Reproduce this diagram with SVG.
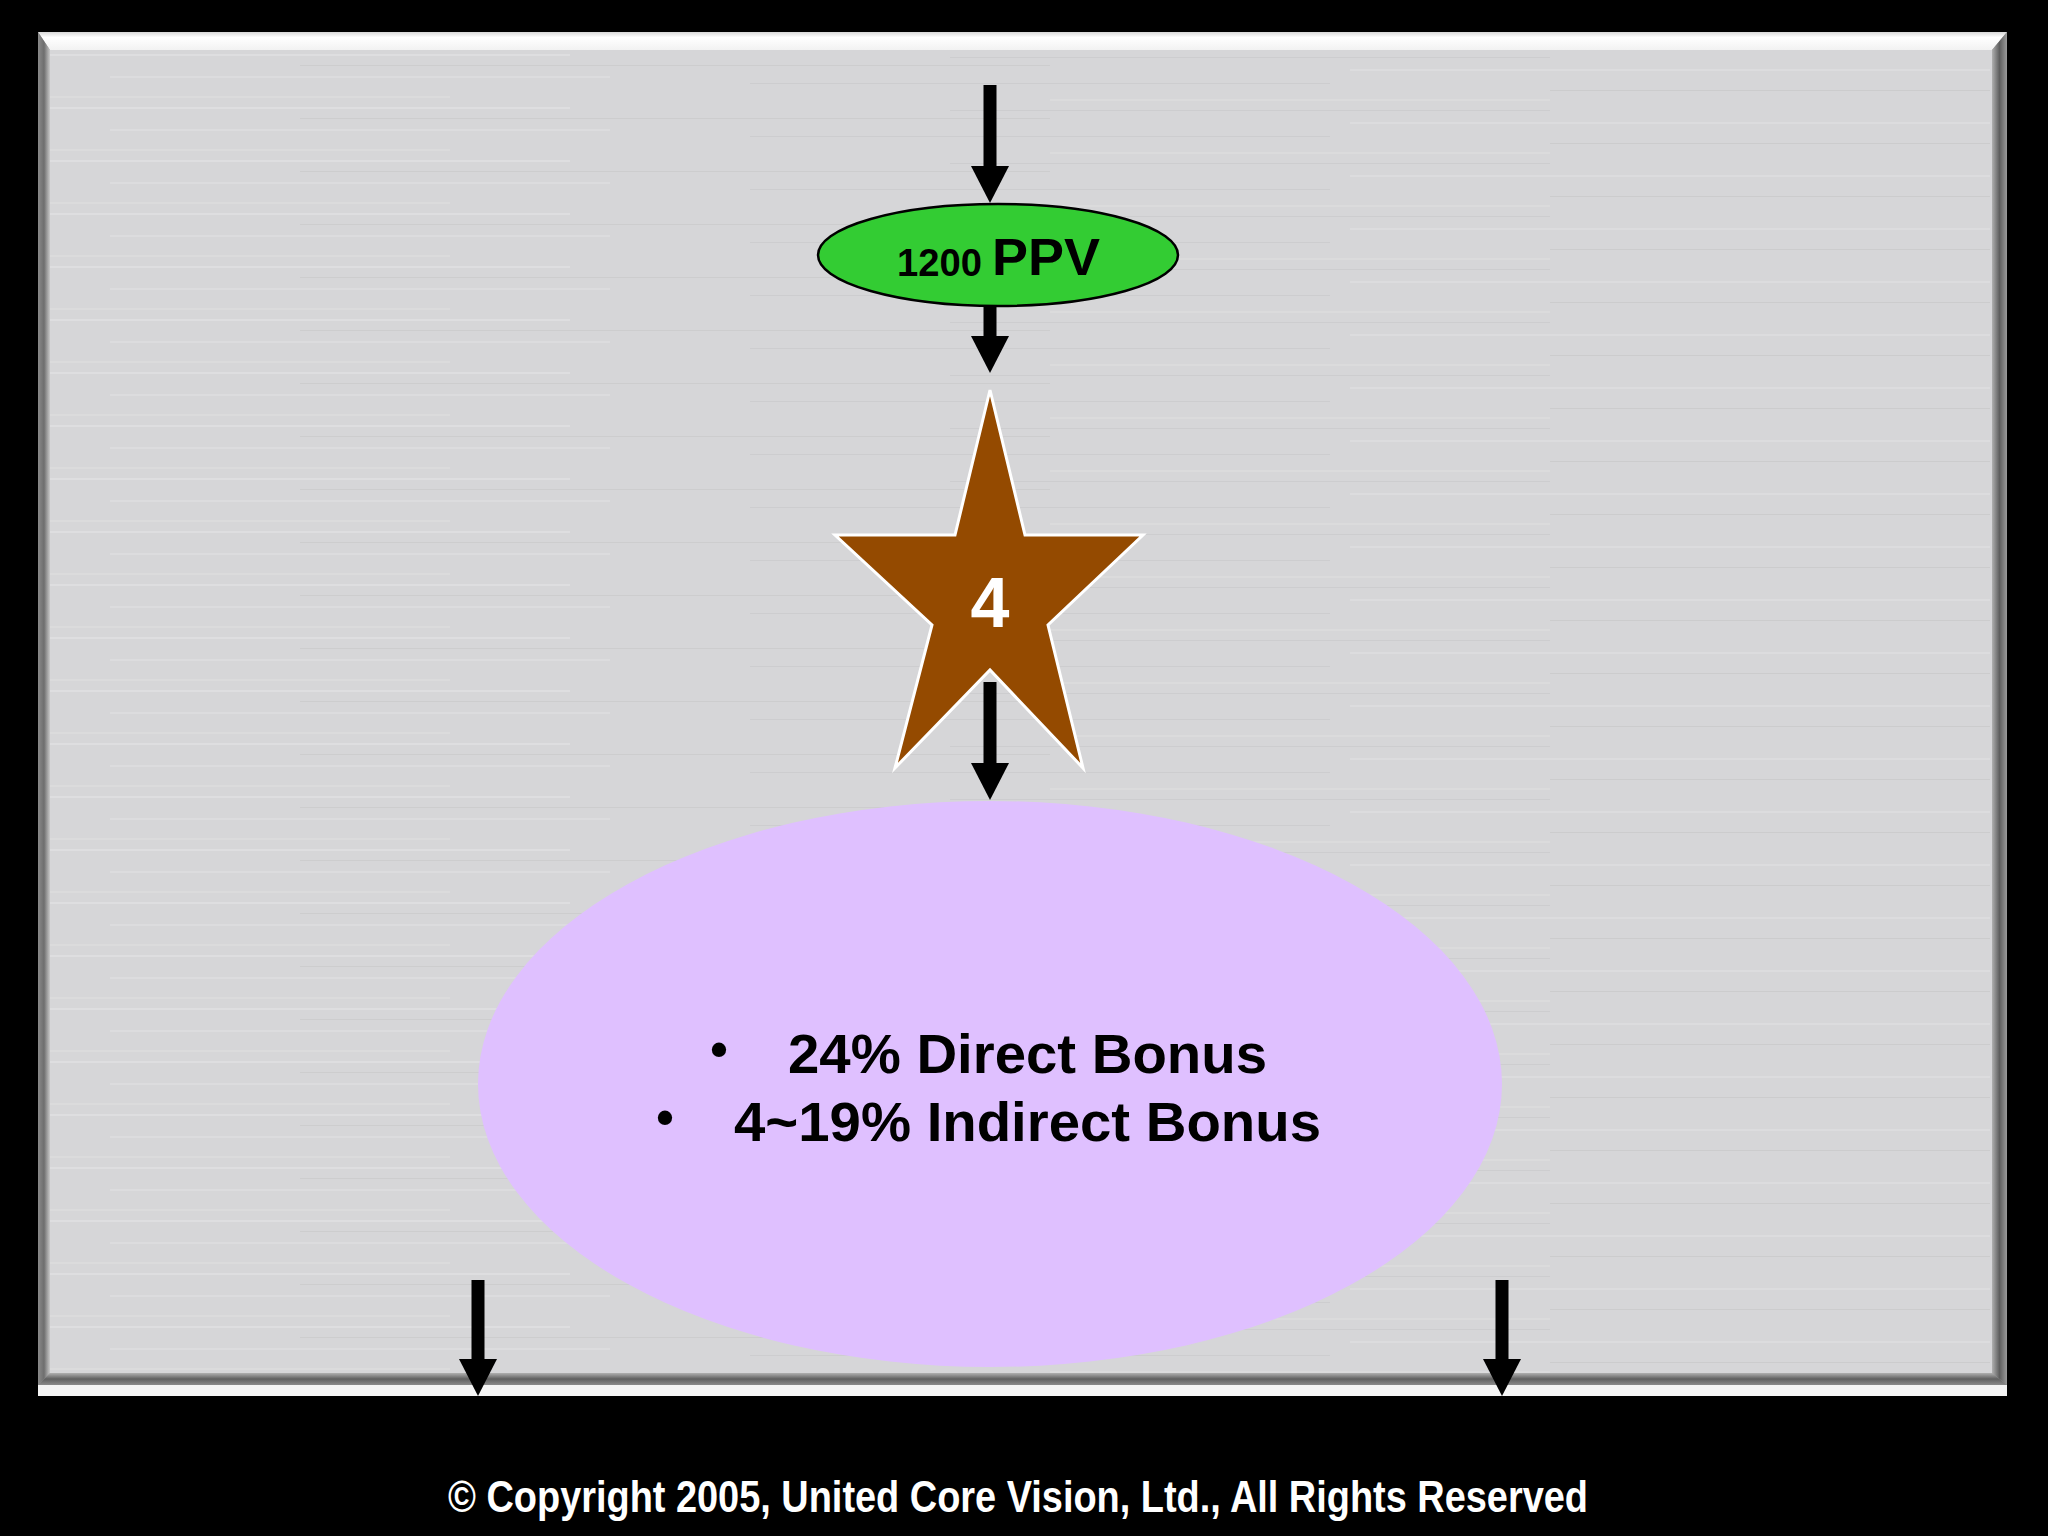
<svg xmlns="http://www.w3.org/2000/svg" width="2048" height="1536" viewBox="0 0 2048 1536">
  <style>
    .lbl { font-family: "Liberation Sans", Arial, sans-serif; font-weight: bold; }
    .conn { stroke: #000; stroke-width: 13; fill: none; marker-end: url(#head); }
  </style>
  <defs>
    <marker id="head" markerUnits="userSpaceOnUse" markerWidth="40" markerHeight="40" refX="2" refY="19" orient="auto">
      <path d="M0,0 L37,19 L0,38 Z" fill="#000"/>
    </marker>
    <linearGradient id="topBev" x1="0" y1="0" x2="0" y2="1">
      <stop offset="0" stop-color="#d8d8d8"/>
      <stop offset="0.3" stop-color="#ffffff"/>
      <stop offset="1" stop-color="#f2f2f2"/>
    </linearGradient>
    <linearGradient id="leftBev" x1="0" y1="0" x2="1" y2="0">
      <stop offset="0" stop-color="#8a8a8a"/>
      <stop offset="0.5" stop-color="#6e6e6e"/>
      <stop offset="1" stop-color="#c8c8c8"/>
    </linearGradient>
    <linearGradient id="rightBev" x1="0" y1="0" x2="1" y2="0">
      <stop offset="0" stop-color="#b0b0b0"/>
      <stop offset="0.5" stop-color="#5e5e5e"/>
      <stop offset="1" stop-color="#9a9a9a"/>
    </linearGradient>
    <linearGradient id="botBev" x1="0" y1="0" x2="0" y2="1">
      <stop offset="0" stop-color="#b0b0b0"/>
      <stop offset="0.5" stop-color="#606060"/>
      <stop offset="1" stop-color="#8a8a8a"/>
    </linearGradient>
    <pattern id="brush" patternUnits="userSpaceOnUse" x="50" y="50" width="1942" height="53">
      <rect width="1942" height="53" fill="#d6d6d8"/>
      <rect x="0" y="4" width="520" height="2" fill="#e2e2e4" opacity="0.7"/>
      <rect x="900" y="7" width="600" height="1" fill="#cacacc" opacity="0.7"/>
      <rect x="250" y="15" width="750" height="1" fill="#c9c9cb" opacity="0.7"/>
      <rect x="1300" y="19" width="640" height="2" fill="#e0e0e2" opacity="0.6"/>
      <rect x="60" y="26" width="500" height="2" fill="#e0e0e2" opacity="0.6"/>
      <rect x="700" y="33" width="580" height="1" fill="#cacacc" opacity="0.7"/>
      <rect x="1500" y="40" width="440" height="1" fill="#c8c8ca" opacity="0.7"/>
      <rect x="0" y="46" width="400" height="2" fill="#dedee0" opacity="0.6"/>
      <rect x="1000" y="49" width="500" height="2" fill="#dedee0" opacity="0.6"/>
    </pattern>
  </defs>

  <rect x="0" y="0" width="2048" height="1536" fill="#000"/>

  <g id="panel">
    <rect x="38" y="32" width="1969" height="1364" fill="#a0a0a0"/>
    <rect x="50" y="50" width="1942" height="1323" fill="url(#brush)"/>
    <polygon points="38,32 2007,32 1992,50 50,50" fill="url(#topBev)"/>
    <polygon points="38,32 50,50 50,1373 38,1385" fill="url(#leftBev)"/>
    <polygon points="2007,32 2007,1385 1992,1373 1992,50" fill="url(#rightBev)"/>
    <polygon points="38,1385 50,1373 1992,1373 2007,1385" fill="url(#botBev)"/>
    <rect x="38" y="1385" width="1969" height="11" fill="#f4f4f4"/>
  </g>

  <g id="node-ppv">
    <ellipse cx="998" cy="255" rx="180" ry="51" fill="#33cc33" stroke="#000" stroke-width="2.5"/>
    <text class="lbl" x="897" y="276" font-size="39" fill="#000" textLength="85" lengthAdjust="spacingAndGlyphs">1200</text>
    <text class="lbl" x="992" y="275" font-size="52" fill="#000" textLength="108" lengthAdjust="spacingAndGlyphs">PPV</text>
  </g>

  <g id="node-star">
    <polygon points="990,390 1025,535 1143,535 1048,625 1083,768 990,670 895,768 932,625 835,535 955,535" fill="#944a00" stroke="#ffffff" stroke-width="3" stroke-linejoin="miter"/>
    <text class="lbl" x="990" y="627" font-size="70" fill="#ffffff" text-anchor="middle">4</text>
  </g>

  <g id="node-bonus">
    <ellipse cx="990" cy="1084" rx="512" ry="283" fill="#dfc0ff"/>
    <text class="lbl" x="719" y="1066" font-size="50" fill="#000" text-anchor="middle">•</text>
    <text class="lbl" x="788" y="1073" font-size="56" fill="#000" textLength="479" lengthAdjust="spacingAndGlyphs">24% Direct Bonus</text>
    <text class="lbl" x="665" y="1134" font-size="50" fill="#000" text-anchor="middle">•</text>
    <text class="lbl" x="734" y="1141" font-size="56" fill="#000" textLength="587" lengthAdjust="spacingAndGlyphs">4~19% Indirect Bonus</text>
  </g>

  <g id="connectors">
    <line class="conn" x1="990" y1="85" x2="990" y2="168"/>
    <line class="conn" x1="990" y1="306" x2="990" y2="338"/>
    <line class="conn" x1="990" y1="682" x2="990" y2="765"/>
    <line class="conn" x1="478" y1="1280" x2="478" y2="1361"/>
    <line class="conn" x1="1502" y1="1280" x2="1502" y2="1361"/>
  </g>

  <g id="footer">
    <text class="lbl" x="448" y="1512" font-size="45" fill="#ffffff" textLength="1140" lengthAdjust="spacingAndGlyphs">© Copyright 2005, United Core Vision, Ltd., All Rights Reserved</text>
  </g>
</svg>
